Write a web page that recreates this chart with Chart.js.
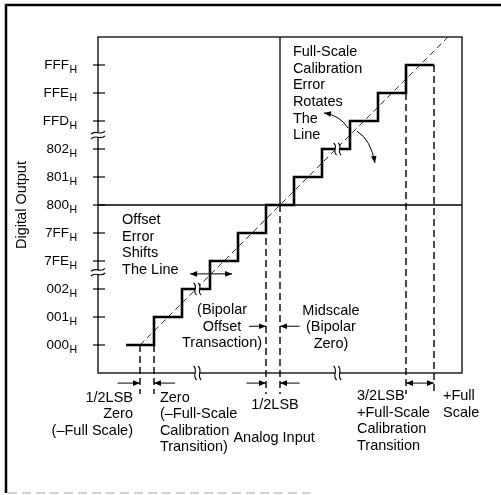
<!DOCTYPE html>
<html>
<head>
<meta charset="utf-8">
<script src="https://cdn.jsdelivr.net/npm/chart.js@4/dist/chart.umd.min.js"></script>
<style>
  html, body { margin: 0; background: #fff; }
  canvas { display: block; }
</style>
</head>
<body>
<canvas id="adc" width="501" height="495"></canvas>
<script>
// output codes (hex) shown on the y axis, one per level
const codeLabels = ['000', '001', '002', '7FE', '7FF', '800', '801', '802', 'FFD', 'FFE', 'FFF'];
// staircase corners: analog input (LSB) / code index
const stepInput = [1, 2, 3, 4, 5, 6, 7, 8, 9, 10, 11, 12];
const stepCode = [0, 1, 2, 3, 4, 5, 6, 7, 8, 9, 10, 10];
// ideal transfer line
const idealInput = [1.5, 12.5];
const idealCode = [0, 11];
// midscale code and bipolar zero input
const midCode = 5;
const midInput = 6.5;
// dashed transition markers: input value and the code they drop from
const markerInput = [1.5, 2, 6, 6.5, 11, 12];
const markerTop = [0, 0, 5, 5, 9, 10];
const markerBottom = -1.75;
// scale breaks
const axisBreakInput = [3.55, 8.55];
const axisBreakCode = [2.6, 7.5];
const stepBreakInput = [3.55, 8.55];
const stepBreakCode = [2, 7];

const FONT = '"Liberation Sans", Arial, Helvetica, sans-serif';

// text notes, anchored in data units
const notes = [
  { lines: ['Offset', 'Error', 'Shifts', 'The Line'], x: 0.86, y: 4.46, align: 'left' },
  { lines: ['Full-Scale', 'Calibration', 'Error', 'Rotates', 'The', 'Line'], x: 6.96, y: 10.46, align: 'left' },
  { lines: ['(Bipolar', 'Offset', 'Transaction)'], x: 4.43, y: 1.24, align: 'center' },
  { lines: ['Midscale', '(Bipolar', 'Zero)'], x: 8.32, y: 1.22, align: 'center' },
  { lines: ['1/2LSB', 'Zero', '(\u2013Full Scale)'], x: 1.25, y: -1.88, align: 'right' },
  { lines: ['Zero', '(\u2013Full-Scale', 'Calibration', 'Transition)'], x: 2.21, y: -1.88, align: 'left' },
  { lines: ['1/2LSB'], x: 6.32, y: -2.14, align: 'center' },
  { lines: ['3/2LSB', '+Full-Scale', 'Calibration', 'Transition'], x: 9.25, y: -1.82, align: 'left' },
  { lines: ['+Full', 'Scale'], x: 12.32, y: -1.82, align: 'left' },
  { lines: ['Analog Input'], x: 6.29, y: -3.32, align: 'center' }
];

// straight arrows (head at "to"; both = double headed)
const arrows = [
  { from: [0.7, -1.36], to: [1.5, -1.36] },
  { from: [2.75, -1.36], to: [2, -1.36] },
  { from: [5.3, -1.36], to: [6, -1.36] },
  { from: [7.2, -1.36], to: [6.5, -1.36] },
  { from: [11, -1.36], to: [12, -1.36], both: true },
  { from: [5.4, 0.67], to: [6, 0.67] },
  { from: [7.2, 0.67], to: [6.5, 0.67] },
  { from: [3.29, 2.54], to: [4.79, 2.54], both: true }
];
// curved arrows (quadratic: start, control, end with head)
const curves = [
  [[8.93, 7.75], [8.64, 8.2], [8.07, 8.29]],
  [[9.25, 7.64], [9.75, 7.32], [9.89, 6.5]]
];

const pts = (xs, ys) => xs.map((x, i) => ({ x: x, y: ys[i] }));

const datasets = [
  // 'before' in Chart.js draws the horizontal run first, then the riser
  { data: pts(stepInput, stepCode), stepped: 'before', borderColor: '#000', borderWidth: 2.6 },
  { data: pts(idealInput, idealCode), borderColor: '#333', borderWidth: 1, borderDash: [6, 4] },
  { data: pts([0, 13], [midCode, midCode]), borderColor: '#000', borderWidth: 1.3 },
  { data: pts([midInput, midInput], [midCode, 11]), borderColor: '#000', borderWidth: 1.3 }
];
markerInput.forEach((x, i) => {
  datasets.push({
    data: pts([x, x], [markerTop[i], markerBottom]),
    borderColor: '#000', borderWidth: 1.4, borderDash: [7, 4], clip: false
  });
});
datasets.forEach(d => { d.showLine = true; d.pointRadius = 0; d.fill = false; });

function head(ctx, x, y, ang) {
  ctx.beginPath();
  ctx.moveTo(x, y);
  ctx.lineTo(x - 7 * Math.cos(ang) + 2.8 * Math.sin(ang), y - 7 * Math.sin(ang) - 2.8 * Math.cos(ang));
  ctx.lineTo(x - 7 * Math.cos(ang) - 2.8 * Math.sin(ang), y - 7 * Math.sin(ang) + 2.8 * Math.cos(ang));
  ctx.closePath();
  ctx.fill();
}

// two wavy strokes with a white gap; rot = 0 for a horizontal line, PI/2 for a vertical one
function breakMark(ctx, px, py, rot, len) {
  ctx.save();
  ctx.translate(px, py);
  ctx.rotate(rot);
  ctx.fillStyle = '#fff';
  ctx.fillRect(-2, -4, 4, 8);
  ctx.strokeStyle = '#000';
  ctx.lineWidth = 1.1;
  [-2.3, 2.3].forEach(sx => {
    ctx.beginPath();
    ctx.moveTo(sx - 1.5, -len);
    ctx.bezierCurveTo(sx + 3.5, -len / 3, sx - 3.5, len / 3, sx + 1.5, len);
    ctx.stroke();
  });
  ctx.restore();
}

const drawing = {
  id: 'drawing',
  beforeDatasetsDraw(chart) {
    const ctx = chart.ctx, a = chart.chartArea;
    ctx.save();
    // page frame
    ctx.strokeStyle = '#000';
    ctx.lineWidth = 2.5;
    ctx.beginPath();
    ctx.moveTo(6, 493); ctx.lineTo(6, 5); ctx.lineTo(501, 5);
    ctx.stroke();
    ctx.strokeStyle = '#c4c4c4';
    ctx.lineWidth = 1.5;
    ctx.setLineDash([9, 5]);
    ctx.beginPath(); ctx.moveTo(8, 493); ctx.lineTo(310, 493); ctx.stroke();
    ctx.setLineDash([]);
    // plot box
    ctx.strokeStyle = '#000';
    ctx.lineWidth = 1.3;
    ctx.strokeRect(a.left, a.top, a.right - a.left, a.bottom - a.top);
    ctx.restore();
  },
  afterDatasetsDraw(chart) {
    const ctx = chart.ctx, a = chart.chartArea;
    const sx = chart.scales.x, sy = chart.scales.y;
    const X = v => sx.getPixelForValue(v), Y = v => sy.getPixelForValue(v);
    ctx.save();
    ctx.fillStyle = '#000';
    ctx.strokeStyle = '#000';

    // y ticks and labels with subscript H
    codeLabels.forEach((lab, i) => {
      const y = Y(i);
      ctx.lineWidth = 1.2;
      ctx.beginPath(); ctx.moveTo(a.left - 5, y); ctx.lineTo(a.left + 7, y); ctx.stroke();
      ctx.font = '13.5px ' + FONT;
      ctx.textAlign = 'right';
      ctx.textBaseline = 'alphabetic';
      ctx.fillText(lab, a.left - 29, y + 3.5);
      ctx.font = '10.5px ' + FONT;
      ctx.textAlign = 'left';
      ctx.fillText('H', a.left - 28.5, y + 7.5);
    });

    // breaks
    axisBreakInput.forEach(v => breakMark(ctx, X(v), a.bottom, 0, 7));
    axisBreakCode.forEach(v => breakMark(ctx, a.left, Y(v), Math.PI / 2, 7));
    stepBreakInput.forEach((v, i) => breakMark(ctx, X(v), Y(stepBreakCode[i]), 0, 6));

    // arrows
    ctx.lineWidth = 1;
    arrows.forEach(ar => {
      const x1 = X(ar.from[0]), y1 = Y(ar.from[1]), x2 = X(ar.to[0]), y2 = Y(ar.to[1]);
      ctx.beginPath(); ctx.moveTo(x1, y1); ctx.lineTo(x2, y2); ctx.stroke();
      head(ctx, x2, y2, Math.atan2(y2 - y1, x2 - x1));
      if (ar.both) head(ctx, x1, y1, Math.atan2(y1 - y2, x1 - x2));
    });
    curves.forEach(c => {
      const p0 = [X(c[0][0]), Y(c[0][1])], p1 = [X(c[1][0]), Y(c[1][1])], p2 = [X(c[2][0]), Y(c[2][1])];
      ctx.beginPath(); ctx.moveTo(p0[0], p0[1]); ctx.quadraticCurveTo(p1[0], p1[1], p2[0], p2[1]); ctx.stroke();
      head(ctx, p2[0], p2[1], Math.atan2(p2[1] - p1[1], p2[0] - p1[0]));
    });

    // notes
    ctx.font = '14.5px ' + FONT;
    ctx.textBaseline = 'middle';
    notes.forEach(n => {
      ctx.textAlign = n.align;
      n.lines.forEach((t, k) => ctx.fillText(t, X(n.x), Y(n.y) + k * 16.6));
    });

    // y axis title
    ctx.save();
    ctx.translate(22, (a.top + a.bottom) / 2);
    ctx.rotate(-Math.PI / 2);
    ctx.textAlign = 'center';
    ctx.fillText('Digital Output', 0, 0);
    ctx.restore();

    ctx.restore();
  }
};

new Chart(document.getElementById('adc'), {
  type: 'scatter',
  data: { datasets: datasets },
  options: {
    responsive: false,
    animation: false,
    devicePixelRatio: 1,
    events: [],
    layout: { padding: { left: 98, right: 39, top: 37, bottom: 122 } },
    plugins: { legend: { display: false }, tooltip: { enabled: false } },
    scales: {
      x: { type: 'linear', min: 0, max: 13, display: false },
      y: { type: 'linear', min: -1, max: 11, display: false }
    }
  },
  plugins: [drawing]
});
</script>
</body>
</html>
